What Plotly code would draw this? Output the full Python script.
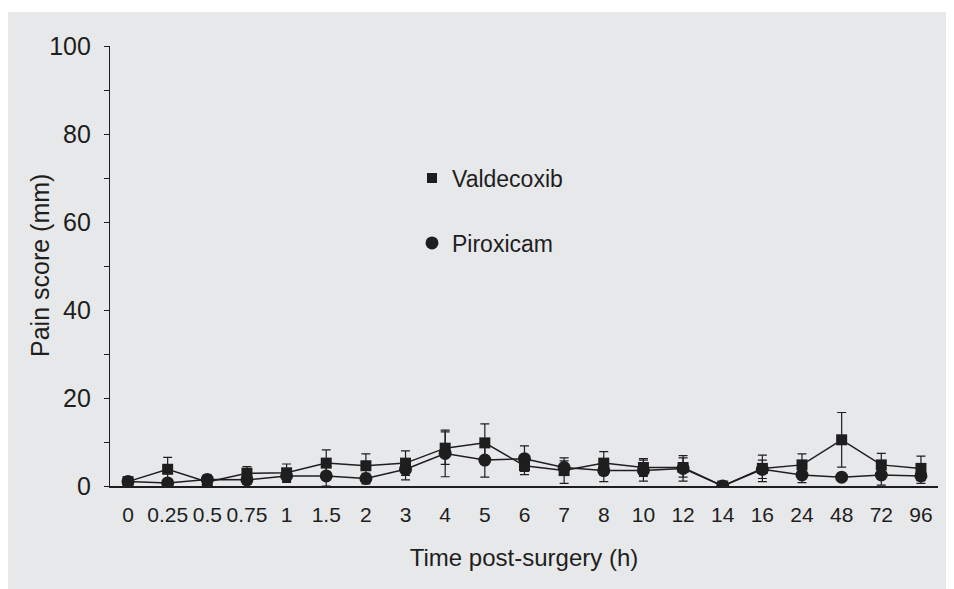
import plotly.graph_objects as go

# ---- data ----
hours = ["0", "0.25", "0.5", "0.75", "1", "1.5", "2", "3", "4", "5", "6",
         "7", "8", "10", "12", "14", "16", "24", "48", "72", "96"]
valdecoxib = [1.0, 3.8, 0.9, 2.9, 3.0, 5.2, 4.6, 5.2, 8.6, 9.8, 4.6,
              3.5, 5.2, 4.2, 4.2, 0.0, 4.0, 4.8, 10.5, 4.8, 4.0]
valdecoxib_err = [0.3, 2.7, 1.5, 1.5, 2.0, 3.0, 2.7, 2.8, 3.7, 4.3, 2.0,
                  2.9, 2.6, 2.0, 2.2, 0.0, 3.0, 2.5, 6.2, 2.6, 2.8]
piroxicam = [1.0, 0.7, 1.5, 1.4, 2.3, 2.3, 1.7, 3.8, 7.4, 5.9, 6.2,
             4.2, 3.5, 3.5, 4.0, 0.0, 3.8, 2.5, 2.0, 2.5, 2.3]
piroxicam_err = [0.3, 0.5, 1.0, 1.0, 1.5, 2.3, 1.2, 2.4, 5.3, 3.9, 2.9,
                 1.5, 2.5, 2.4, 2.9, 0.0, 2.1, 1.75, 0.5, 2.3, 1.7]
y_ticks = [0, 20, 40, 60, 80, 100]

INK = "#1e1e1e"
BG = "#e7e8ea"
FONT = "Liberation Sans, Arial, sans-serif"

fig = go.Figure()

fig.add_trace(go.Scatter(
    x=hours, y=piroxicam, mode="lines+markers", name="Piroxicam",
    showlegend=False,
    line=dict(color=INK, width=1.5),
    marker=dict(symbol="circle", size=13, color=INK),
    error_y=dict(type="data", array=piroxicam_err, visible=True,
                 color=INK, thickness=1.2, width=4.5),
))
fig.add_trace(go.Scatter(
    x=hours, y=valdecoxib, mode="lines+markers", name="Valdecoxib",
    showlegend=False,
    line=dict(color=INK, width=1.5),
    marker=dict(symbol="square", size=11, color=INK),
    error_y=dict(type="data", array=valdecoxib_err, visible=True,
                 color=INK, thickness=1.2, width=4.5),
))

# legend-only entries (marker glyph only, as in the reference)
fig.add_trace(go.Scatter(
    x=[None], y=[None], mode="markers", name="Valdecoxib",
    marker=dict(symbol="square", size=10, color=INK), legend="legend",
))
fig.add_trace(go.Scatter(
    x=[None], y=[None], mode="markers", name="Piroxicam",
    marker=dict(symbol="circle", size=13, color=INK), legend="legend2",
))

# page has an 8px body margin; the figure overflows slightly to the right/bottom
W, H = 954, 589
L, R, T, B = 102, 24, 38, 111
pw, ph = W - L - R, H - T - B


def px_x(page_x):
    return (page_x - 8 - L) / pw


def px_y(page_y):
    return (H - B - (page_y - 8)) / ph


fig.update_layout(
    width=W, height=H,
    margin=dict(l=L, r=R, t=T, b=B, pad=0),
    paper_bgcolor="white",
    plot_bgcolor="rgba(0,0,0,0)",
    font=dict(family=FONT, color=INK),
    legend=dict(x=px_x(432 - 20), xanchor="left",
                y=px_y(178), yanchor="middle",
                bgcolor="rgba(0,0,0,0)", font=dict(size=23, color=INK),
                borderwidth=0),
    legend2=dict(x=px_x(432 - 20), xanchor="left",
                 y=px_y(243), yanchor="middle",
                 bgcolor="rgba(0,0,0,0)", font=dict(size=23, color=INK),
                 borderwidth=0),
    shapes=[dict(type="rect", xref="paper", yref="paper", layer="below",
                 x0=px_x(7), x1=px_x(980),
                 y0=px_y(620), y1=px_y(12),
                 fillcolor=BG, line=dict(width=0))],
    annotations=[dict(text="Pain score (mm)", xref="paper", yref="paper",
                      x=px_x(40), y=0.5, xanchor="center", yanchor="middle",
                      textangle=-90, showarrow=False,
                      font=dict(size=25, color=INK))],
)

fig.update_xaxes(
    type="category", range=[-0.454, 20.43],
    showline=True, linecolor=INK, linewidth=1.5,
    ticks="", showgrid=False, zeroline=False,
    tickfont=dict(size=21, color=INK), ticklabelstandoff=9,
    title=dict(text="Time post-surgery (h)", font=dict(size=24, color=INK),
               standoff=24),
    automargin=False,
)
fig.update_yaxes(
    range=[0, 100], tickvals=y_ticks,
    showline=True, linecolor=INK, linewidth=1.3,
    ticks="outside", ticklen=5, tickwidth=1.2, tickcolor=INK,
    minor=dict(dtick=10, ticks="outside", ticklen=5, tickwidth=1.2,
               tickcolor=INK, showgrid=False),
    showgrid=False, zeroline=False,
    tickfont=dict(size=25, color=INK), ticklabelstandoff=8,
    automargin=False,
)

fig.write_html("out.html")
